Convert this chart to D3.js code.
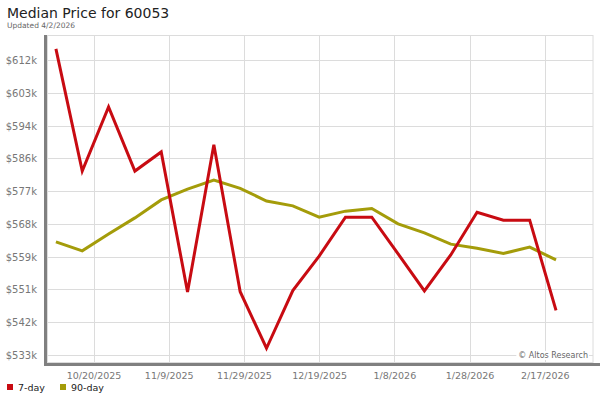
<!DOCTYPE html>
<html>
<head>
<meta charset="utf-8">
<script src="https://cdn.jsdelivr.net/npm/d3@7"></script>
<style>
  body { margin: 0; background: #fff; }
  svg { display: block; font-family: "DejaVu Sans", sans-serif; }
</style>
</head>
<body>
<div id="chart"></div>
<script>
// weekly dates (Fridays), 10/10/2025 .. 2/20/2026
const dates = [
  "2025-10-10", "2025-10-17", "2025-10-24", "2025-10-31", "2025-11-07",
  "2025-11-14", "2025-11-21", "2025-11-28", "2025-12-05", "2025-12-12",
  "2025-12-19", "2025-12-26", "2026-01-02", "2026-01-09", "2026-01-16",
  "2026-01-23", "2026-01-30", "2026-02-06", "2026-02-13", "2026-02-20"
];

const sevenDay = [
  615300, 582700, 599800, 582700, 587800, 550400, 589700, 550500, 535400, 550800,
  560000, 570400, 570400, 560600, 550700, 560300, 571700, 569600, 569600, 545500
];

const ninetyDay = [
  563800, 561400, 565900, 570200, 575000, 577900, 580300, 578100, 574700, 573400,
  570400, 572000, 572700, 568600, 566200, 563200, 562100, 560700, 562400, 559000
];

const yTickValues = [533600, 542350, 551100, 559850, 568600, 577350, 586100, 594850, 603600, 612350];
const xTickDates = ["2025-10-20", "2025-11-09", "2025-11-29", "2025-12-19", "2026-01-08", "2026-01-28", "2026-02-17"];

const seriesNames = ["7-day", "90-day"];
const seriesColors = ["#c80b12", "#a49c0a"];

const width = 600;
const height = 400;
const plot = { left: 47, right: 593, top: 35, bottom: 362 };

const parse = d3.timeParse("%Y-%m-%d");
const days = dates.map(parse);

const x = d3.scaleTime()
    .domain([d3.timeHour.offset(days[0], -57), d3.timeHour.offset(days[days.length - 1], 236)])
    .range([plot.left, plot.right]);

const y = d3.scaleLinear()
    .domain([531730, 619020])
    .range([plot.bottom, plot.top]);

const svg = d3.select("#chart")
    .append("svg")
    .attr("width", width)
    .attr("height", height)
    .attr("viewBox", [0, 0, width, height]);

// Title
svg.append("text")
    .attr("x", 7)
    .attr("y", 18)
    .attr("fill", "#222")
    .style("font-size", "14px")
    .text("Median Price for 60053");

svg.append("text")
    .attr("x", 7)
    .attr("y", 28)
    .attr("fill", "#666")
    .style("font-size", "7.5px")
    .text("Updated 4/2/2026");

// Plot frame
svg.append("rect")
    .attr("x", plot.left + 0.5)
    .attr("y", plot.top + 0.5)
    .attr("width", plot.right - plot.left - 0.5)
    .attr("height", plot.bottom - plot.top)
    .attr("fill", "#fff")
    .attr("stroke", "#dcdcdc");

// Grid lines
svg.append("g")
    .selectAll("line")
    .data(yTickValues)
    .join("line")
    .attr("x1", plot.left)
    .attr("x2", plot.right)
    .attr("y1", d => Math.round(y(d)) + 0.5)
    .attr("y2", d => Math.round(y(d)) + 0.5)
    .attr("stroke", "#dcdcdc");

svg.append("g")
    .selectAll("line")
    .data(xTickDates.map(parse))
    .join("line")
    .attr("x1", d => Math.round(x(d)) + 0.5)
    .attr("x2", d => Math.round(x(d)) + 0.5)
    .attr("y1", plot.top)
    .attr("y2", plot.bottom)
    .attr("stroke", "#dcdcdc");

// Y axis
const yAxis = svg.append("g")
    .attr("transform", `translate(${plot.left - 7},0)`)
    .call(d3.axisLeft(y)
        .tickValues(yTickValues)
        .tickSize(0)
        .tickFormat(d => `$${Math.floor(d / 1000)}k`));
yAxis.select(".domain").remove();
yAxis.selectAll("text")
    .attr("fill", "#777")
    .attr("dy", "0.35em")
    .style("font-size", "10px")
    .style("font-family", "DejaVu Sans, sans-serif");

// X axis
const xAxis = svg.append("g")
    .attr("transform", `translate(0,${plot.bottom + 7})`)
    .call(d3.axisBottom(x)
        .tickValues(xTickDates.map(parse))
        .tickSize(0)
        .tickFormat(d3.timeFormat("%-m/%-d/%Y")));
xAxis.select(".domain").remove();
xAxis.selectAll("text")
    .attr("fill", "#777")
    .style("font-size", "9.5px")
    .style("font-family", "DejaVu Sans, sans-serif");

// Shadowed axis lines
svg.append("line")
    .attr("x1", 45.5).attr("x2", 45.5)
    .attr("y1", plot.top).attr("y2", 366)
    .attr("stroke", "#808080")
    .attr("stroke-width", 3);

svg.append("line")
    .attr("x1", 44).attr("x2", 600)
    .attr("y1", 364.5).attr("y2", 364.5)
    .attr("stroke", "#808080")
    .attr("stroke-width", 3);

// Watermark
const mark = svg.append("text")
    .attr("x", plot.right - 5)
    .attr("y", 358)
    .attr("text-anchor", "end")
    .attr("fill", "#666")
    .style("font-size", "8px")
    .text("\u00a9 Altos Research");
const bb = mark.node().getBBox();
svg.insert("rect", () => mark.node())
    .attr("x", bb.x - 2)
    .attr("y", bb.y)
    .attr("width", bb.width + 3)
    .attr("height", bb.height)
    .attr("fill", "#fff");

// Lines
const line = d3.line()
    .x((d, i) => x(days[i]))
    .y(d => y(d));

[ninetyDay, sevenDay].forEach((values, k) => {
    svg.append("path")
        .datum(values)
        .attr("fill", "none")
        .attr("stroke", seriesColors[1 - k])
        .attr("stroke-width", 3)
        .attr("stroke-linejoin", "miter")
        .attr("d", line);
});

// Legend
const legendX = [7, 60];
const legend = svg.append("g");
seriesNames.forEach((name, i) => {
    legend.append("rect")
        .attr("x", legendX[i])
        .attr("y", 384)
        .attr("width", 6)
        .attr("height", 6)
        .attr("fill", seriesColors[i]);
    legend.append("text")
        .attr("x", legendX[i] + 11)
        .attr("y", 391)
        .attr("fill", "#222")
        .style("font-size", "9.5px")
        .text(name);
});
</script>
</body>
</html>
